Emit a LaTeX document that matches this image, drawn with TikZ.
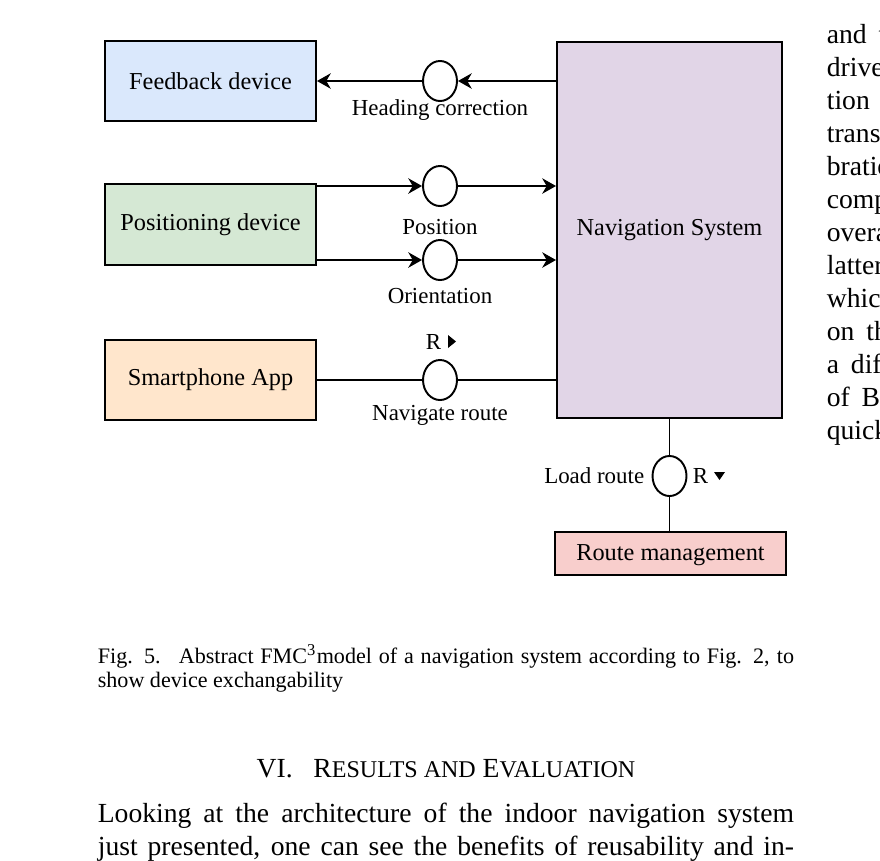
\documentclass[tikz,border=0pt]{standalone}
\usepackage{fontspec}
\setmainfont{Liberation Serif}
\usetikzlibrary{arrows.meta,positioning,shapes.geometric}

\definecolor{fbblue}{HTML}{DAE8FC}
\definecolor{posgreen}{HTML}{D5E8D4}
\definecolor{apporange}{HTML}{FFE6CC}
\definecolor{navpurple}{HTML}{E1D5E7}
\definecolor{rmred}{HTML}{F8CECC}

\begin{document}
\begin{tikzpicture}[x=0.3621pt, y=-0.3621pt, line width=0.6pt,
    >={Stealth[length=5pt, width=5.6pt]},
    blk/.style={draw, line width=0.7pt, minimum width=76.4pt, minimum height=29pt, inner sep=0pt, font=\fontsize{8.8}{10}\selectfont},
    chan/.style={ellipse, draw, fill=white, line width=0.7pt, minimum width=12.3pt, minimum height=14.5pt, inner sep=0pt},
    lbl/.style={font=\fontsize{8.3}{10}\selectfont, inner sep=0pt, anchor=base},
    body/.style={font=\fontsize{10}{12}\selectfont, inner sep=0pt, anchor=base west},
    capt/.style={font=\fontsize{8}{9.5}\selectfont, inner sep=0pt, anchor=base west}]
  \useasboundingbox (0,0) rectangle (880,860);
  % ---------------- blocks ----------------
  \node[blk, fill=fbblue] (fb) at (210.5,81) {Feedback device};
  \node[blk, fill=posgreen] (pos) at (210.5,224.5) {Positioning device};
  \node[blk, fill=apporange] (app) at (210.5,380) {Smartphone App};
  \node[blk, fill=navpurple, minimum width=81.5pt, minimum height=136.2pt] (nav) at (669.5,230) {Navigation System};
  \node[blk, fill=rmred, minimum width=83.7pt, minimum height=15.6pt, text depth=0.5pt] (rm) at (670.5,553.5) {Route management};
  % ---------------- channels ----------------
  \node[chan] (hc) at (440,81) {};
  \node[chan] (po) at (440,186) {};
  \node[chan] (or) at (440,260) {};
  \node[chan] (nr) at (440,380) {};
  \node[chan] (lr) at (669.5,476) {};
  \draw[->] (nav.west |- hc) -- (hc);
  \draw[->] (hc) -- (fb);
  \draw[->] (pos.east |- po) -- (po);
  \draw[->] (po) -- (nav.west |- po);
  \draw[->] (pos.east |- or) -- (or);
  \draw[->] (or) -- (nav.west |- or);
  \draw (app) -- (nr) -- (nav.west |- nr);
  \draw (nav.south -| lr) -- (lr) -- (lr |- rm.north);
  % ---------------- channel labels ----------------
  \node[lbl] (hcl) at (440,115) {Heading correction};
  \node[lbl] (pol) at (440,234) {Position};
  \node[lbl] (orl) at (440,303) {Orientation};
  \node[lbl] (nrr) at (433.5,349) {R};
  \fill (448,335) -- (456,341.5) -- (448,348) -- cycle;
  \node[lbl] (nrl) at (440,420) {Navigate route};
  \node[lbl, anchor=base east] (lrl) at (645,483) {Load route};
  \node[lbl, anchor=base west] (lrr) at (692,483) {R};
  \fill (714,472) -- (725,472) -- (719.5,480) -- cycle;
  % ---------------- caption, heading, text ----------------
  \node[capt] (cap1) at (97,663) {\makebox[252.1pt][s]{Fig. 5.\hspace{2.5pt} Abstract FMC\textsuperscript{3}model of a navigation system according to Fig. 2, to}};
  \node[capt] (cap2) at (97,687) {show device exchangability};
  \node[body, anchor=base] (sec) at (446,777) {VI.\hspace{5pt} R{\fontsize{8.7}{10}\selectfont ESULTS AND} E{\fontsize{8.7}{10}\selectfont VALUATION}};
  \node[body] (txt1) at (97,822) {\makebox[252.1pt][s]{Looking at the architecture of the indoor navigation system}};
  \node[body] (txt2) at (97,855) {\makebox[252.1pt][s]{just presented, one can see the benefits of reusability and in-}};
  \foreach \w [count=\i from 0] in {and t, drive, tion, trans, bratio, comp, overa, latter, whic, on th, a dif, of B, quick} {
     \node[body] (rc\i) at (826,{43+33*\i}) {\spaceskip=4.3pt\relax\w};
  }
\end{tikzpicture}
\end{document}
